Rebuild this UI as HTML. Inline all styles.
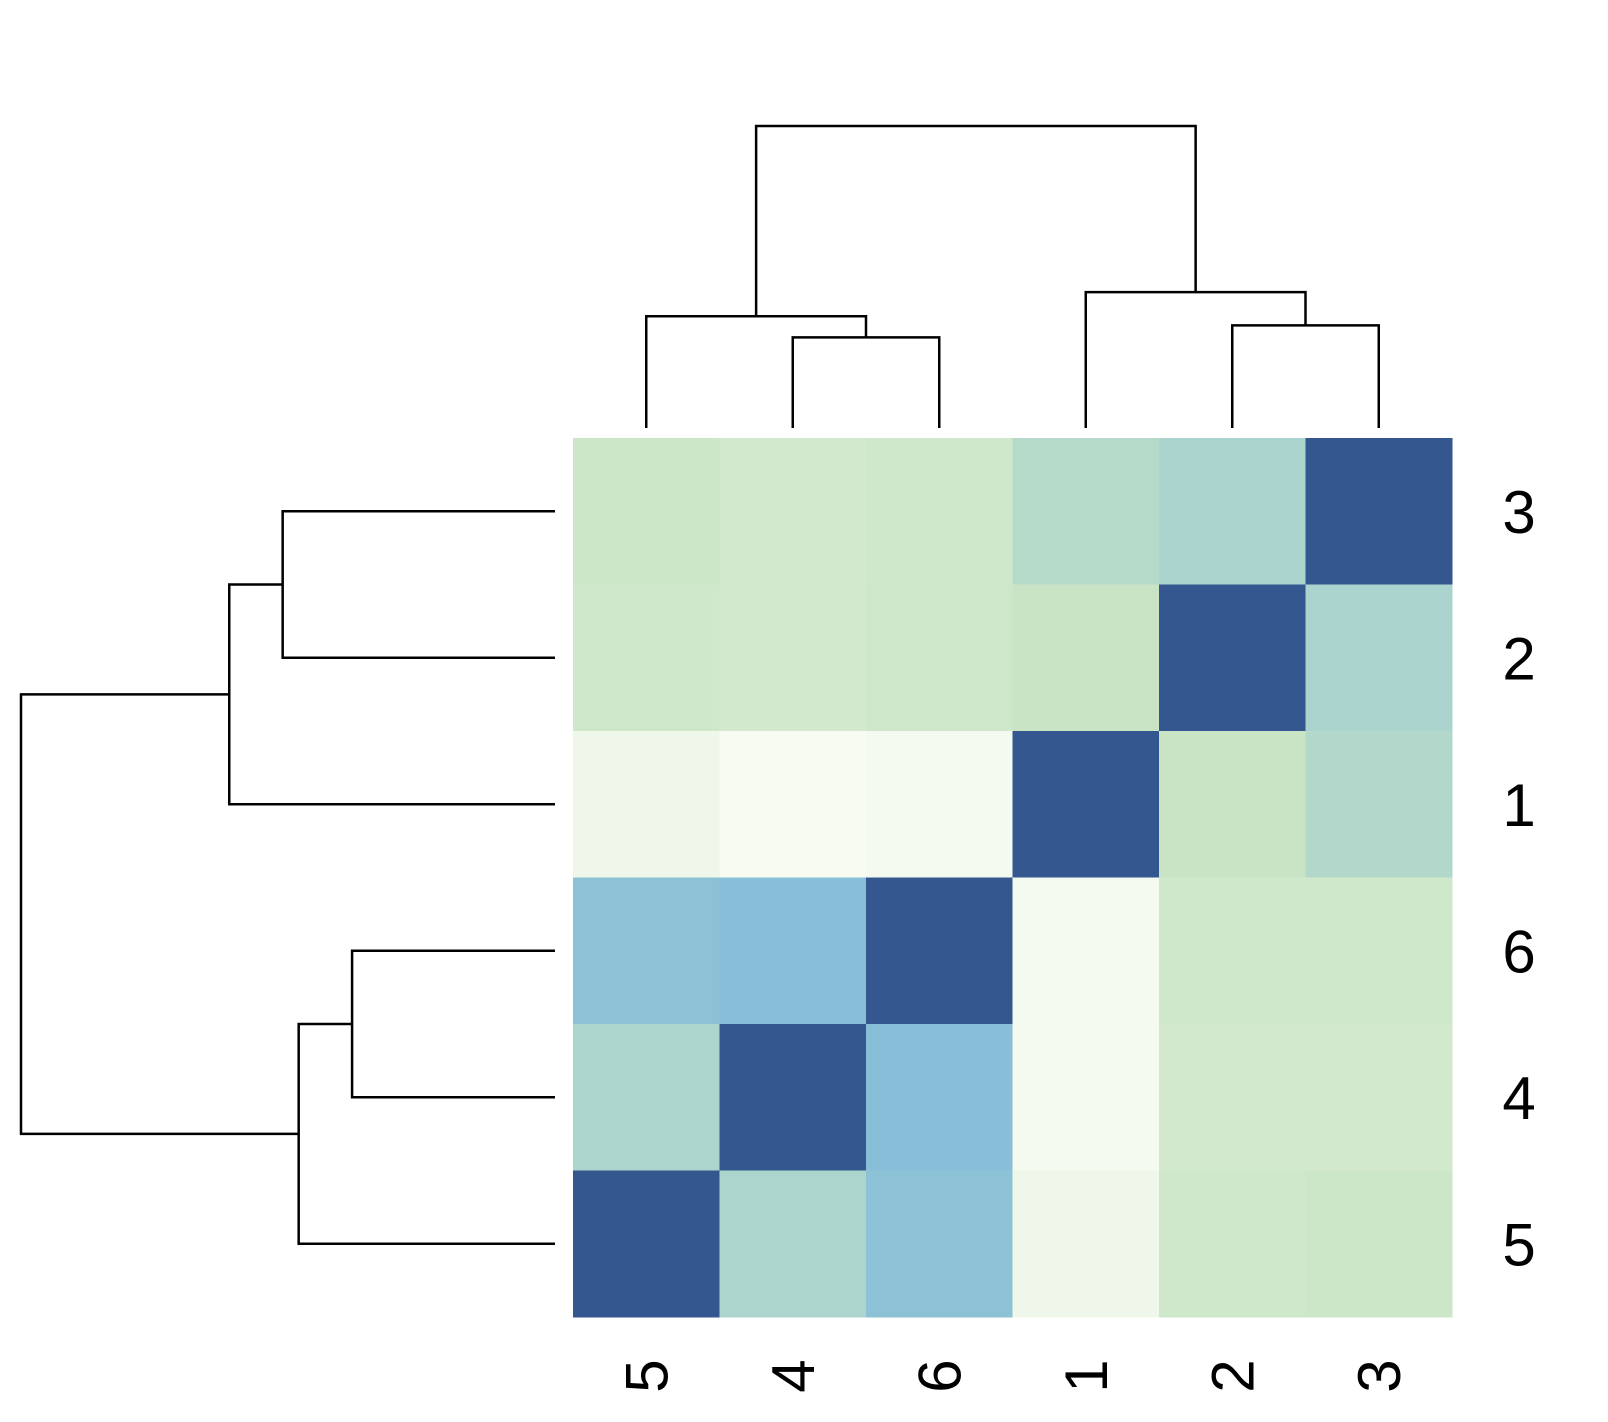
<!DOCTYPE html>
<html><head><meta charset="utf-8"><style>
html,body{margin:0;padding:0;background:#fff;}
svg{display:block;font-family:"Liberation Sans",Arial,sans-serif;}
</style></head><body>
<svg id="chart" width="1608" height="1422" viewBox="0 0 1608 1422" xmlns="http://www.w3.org/2000/svg">
<g id="cells"></g>
<g id="dendro" stroke="#000" stroke-width="2.5" fill="none"></g>
<g id="labels"></g>
</svg>
<script>
const rowLabels = ["3","2","1","6","4","5"];
const colLabels = ["5","4","6","1","2","3"];
const values = [
  [0.28,0.24,0.26,0.40,0.46,1],
  [0.26,0.24,0.27,0.30,1,0.46],
  [0.05,0.00,0.01,1,0.30,0.42],
  [0.58,0.60,1,0.01,0.26,0.26],
  [0.45,1,0.60,0.01,0.24,0.24],
  [1,0.45,0.58,0.05,0.26,0.28]
];
// dendrogram merge heights (col: top tree, row: left tree), in data units 0..1
const colMerges = [["4","6",0.30],["5","4|6",0.37],["2","3",0.34],["1","2|3",0.45],["5|4|6","1|2|3",1]];
const rowMerges = [["3","2",0.51],["3|2","1",0.61],["6","4",0.38],["6|4","5",0.48],["3|2|1","6|4|5",1]];

const X0=573, Y0=438, CW=146.5, CH=146.5, N=6;
const stops=[[0,[247,251,242]],[0.3,[201,228,197]],[0.5,[162,208,207]],[0.6,[136,190,216]],[1,[52,87,143]]];
function color(v){
  for(let i=1;i<stops.length;i++){ if(v<=stops[i][0]){const a=stops[i-1],b=stops[i];const t=(v-a[0])/(b[0]-a[0]);
    const c=a[1].map((x,k)=>Math.round(x+(b[1][k]-x)*t));return `rgb(${c})`;}}
  return "rgb(52,87,143)";
}
const NS="http://www.w3.org/2000/svg";
function mk(tag,attrs,parent){const e=document.createElementNS(NS,tag);for(const k in attrs)e.setAttribute(k,attrs[k]);parent.appendChild(e);return e;}
const cells=document.getElementById('cells');
values.forEach((row,r)=>row.forEach((v,c)=>{
  const e=mk('rect',{x:X0+c*CW,y:Y0+r*CH,width:CW+0.5,height:CH+0.5,fill:color(v)},cells);
  
  
}));
const labels=document.getElementById('labels');
rowLabels.forEach((l,r)=>{
  const t=mk('text',{x:1519,y:Y0+r*CH+95,'font-size':60,'text-anchor':'middle'},labels);t.textContent=l;
  
  
});
colLabels.forEach((l,c)=>{
  const cx=X0+c*CW+CW/2;
  const t=mk('text',{x:0,y:0,'font-size':60,'text-anchor':'middle',transform:`translate(${cx+21},1376) rotate(-90)`},labels);t.textContent=l;
  
  
});
const dg=document.getElementById('dendro');
// top dendrogram: y = 428 - h*(428-126)
function colY(h){return 428-h*(428-126);}
const cpos={};colLabels.forEach((l,i)=>cpos[l]={p:X0+i*CW+CW/2,h:0});
colMerges.forEach(([a,b,h])=>{
  const A=cpos[a],B=cpos[b],y=colY(h);
  const p=mk('path',{d:`M${A.p},${colY(A.h)}V${y}H${B.p}V${colY(B.h)}`},dg);
  
  
  cpos[a+'|'+b]={p:(A.p+B.p)/2,h:h};
});
// left dendrogram: x = 555 - h*(555-21)
function rowX(h){return 555-h*(555-21);}
const rpos={};rowLabels.forEach((l,i)=>rpos[l]={p:Y0+i*CH+CH/2,h:0});
rowMerges.forEach(([a,b,h])=>{
  const A=rpos[a],B=rpos[b],x=rowX(h);
  const p=mk('path',{d:`M${rowX(A.h)},${A.p}H${x}V${B.p}H${rowX(B.h)}`},dg);
  
  
  rpos[a+'|'+b]={p:(A.p+B.p)/2,h:h};
});
</script>
</body></html>
